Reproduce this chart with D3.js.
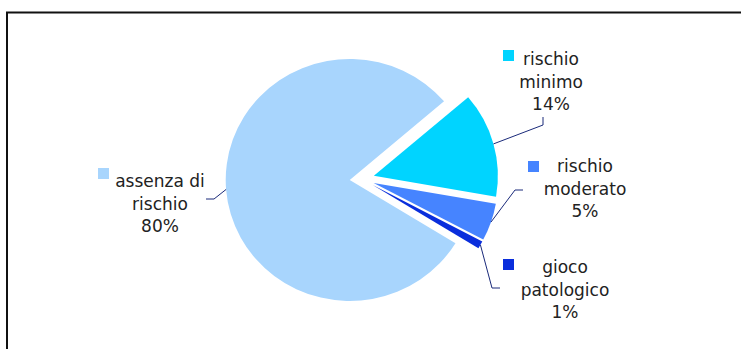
<!DOCTYPE html>
<html><head><meta charset="utf-8">
<script src="https://cdn.jsdelivr.net/npm/d3@7"></script>
<style>html,body{margin:0;padding:0;background:#fff;}svg{display:block;}</style>
</head><body>
<script>
// Data
const categories = ["rischio minimo", "rischio moderato", "gioco patologico", "assenza di rischio"];
const values = [14, 5, 1, 80];
const labelLines = [["rischio", "minimo", "14%"], ["rischio", "moderato", "5%"], ["gioco", "patologico", "1%"], ["assenza di", "rischio", "80%"]];
const colors = ["#00D4FF", "#4684FF", "#0A2EDC", "#A8D5FD"];

// Layout (label anchor: centre x, first baseline y; marker x,y; leader elbow points)
const layout = [
  {cx: 551, y: 65, mx: 503, my: 50, leader: [[543, 117], [543, 125]]},
  {cx: 585, y: 172, mx: 528, my: 161, leader: [[523, 190], [515, 190]]},
  {cx: 565, y: 273, mx: 503, my: 259, leader: [[500, 288], [492, 288]]},
  {cx: 160, y: 187, mx: 98, my: 168, leader: [[206, 199], [214, 199]]}
];

const W = 741, H = 349;
const svg = d3.select("body").append("svg").attr("width", W).attr("height", H);

// frame
svg.append("path").attr("d", `M7,${H+2} L7,12.5 L${W+2},12.5`).attr("fill", "none").attr("stroke", "#111").attr("stroke-width", 2);

const cx = 362, cy = 179, r = 121, sx = 1.025, explode = 12;
const deg = Math.PI / 180;
const pie = d3.pie().sort(null).startAngle(49.5 * deg).endAngle(409.5 * deg).value(d => d);
const arcs = pie(values);
const arc = d3.arc().innerRadius(0).outerRadius(r);

const g = svg.append("g").attr("transform", `translate(${cx},${cy}) scale(${sx},1)`);
g.selectAll("path.slice").data(arcs).enter().append("path")
  .attr("class", "slice")
  .attr("d", arc)
  .attr("fill", (d, i) => colors[i])
  .attr("transform", d => {
    const m = (d.startAngle + d.endAngle) / 2;
    return `translate(${explode * Math.sin(m)},${-explode * Math.cos(m)})`;
  });

// leader lines
arcs.forEach((d, i) => {
  const m = (d.startAngle + d.endAngle) / 2;
  const px = cx + sx * (explode + r) * Math.sin(m);
  const py = cy - (explode + r) * Math.cos(m);
  const pts = layout[i].leader.concat([[px, py]]);
  svg.append("path").attr("d", d3.line()(pts)).attr("fill", "none")
    .attr("stroke", "#1a2a7a").attr("stroke-width", 1);
});

// labels
categories.forEach((c, i) => {
  const L = layout[i];
  svg.append("rect").attr("x", L.mx).attr("y", L.my).attr("width", 11).attr("height", 11).attr("fill", colors[i]);
  const t = svg.append("text").attr("text-anchor", "middle")
    .attr("font-family", "DejaVu Sans").attr("font-size", 17).attr("fill", "#222");
  labelLines[i].forEach((s, k) => {
    t.append("tspan").attr("x", L.cx).attr("y", L.y + k * 22.5).text(s);
  });
});
</script>
</body></html>
